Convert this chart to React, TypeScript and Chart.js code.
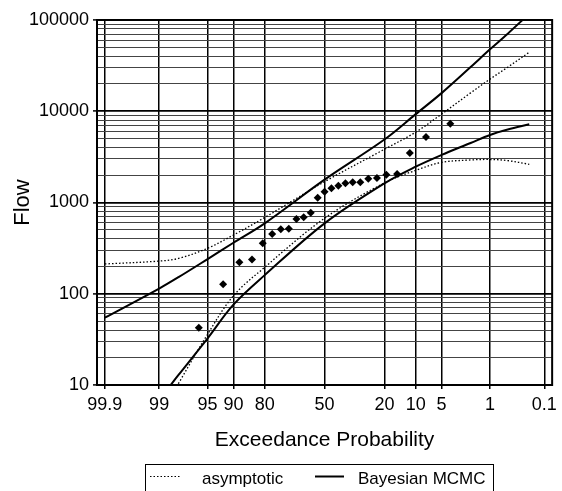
import React, { useEffect, useRef } from "react";
import { Chart, registerables } from "chart.js";

Chart.register(...registerables);

// ---- data ----
const X_TICK_PROBS = [99.9, 99, 95, 90, 80, 50, 20, 10, 5, 1, 0.1];
const X_TICK_LABELS = ["99.9", "99", "95", "90", "80", "50", "20", "10", "5", "1", "0.1"];
const Y_MIN = 10;
const Y_MAX = 100000;

// observed flows at their exceedance probabilities (%)
const OBS_PROBS = [96.15, 92.31, 88.46, 84.62, 80.77, 76.92, 73.08, 69.23, 65.38, 61.54, 57.69, 53.85, 50.0,
  46.15, 42.31, 38.46, 34.62, 30.77, 26.92, 23.08, 19.23, 15.38, 11.54, 7.69, 3.85];
const OBS_FLOWS = [42.5, 127, 221, 238, 357, 452, 510, 515, 659, 688, 773, 1129, 1313,
  1429, 1528, 1622, 1663, 1663, 1824, 1853, 2017, 2049, 3487, 5220, 7306];

// confidence bounds (exceedance probability %, flow)
const CURVE_PROBS = [99.9, 99, 98, 95, 90, 80, 50, 20, 10, 5, 2, 1, 0.5, 0.2];
const BAYES_UPPER = [54.6, 114, 152, 240, 362, 591, 1780, 4900, 9300, 15800, 30500, 47700, 70800, 117000];
const BAYES_LOWER = [1.5, 7, 12.9, 32.5, 76, 160, 591, 1622, 2470, 3320, 4490, 5500, 6300, 7190];
const ASYM_UPPER = [212, 228, 244, 315, 440, 685, 1690, 3830, 5900, 9300, 15900, 22500, 30400, 44300];
const ASYM_LOWER = [1, 4.4, 10.4, 36, 95, 195, 672, 1640, 2250, 2750, 2925, 2960, 2880, 2620];

const LEGEND_LABELS = ["asymptotic", "Bayesian MCMC"];

// inverse standard normal CDF (Acklam) used for the probability axis
function probit(p: number): number {
  const a = [-3.969683028665376e1, 2.209460984245205e2, -2.759285104469687e2, 1.38357751867269e2, -3.066479806614716e1, 2.506628277459239];
  const b = [-5.447609879822406e1, 1.615858368580409e2, -1.556989798598866e2, 6.680131188771972e1, -1.328068155288572e1];
  const c = [-7.784894002430293e-3, -3.223964580411365e-1, -2.400758277161838, -2.549732539343734, 4.374664141464968, 2.938163982698783];
  const d = [7.784695709041462e-3, 3.224671290700398e-1, 2.445134137142996, 3.754408661907416];
  const pl = 0.02425;
  if (p < pl) {
    const q = Math.sqrt(-2 * Math.log(p));
    return (((((c[0] * q + c[1]) * q + c[2]) * q + c[3]) * q + c[4]) * q + c[5]) / ((((d[0] * q + d[1]) * q + d[2]) * q + d[3]) * q + 1);
  }
  if (p > 1 - pl) {
    const q = Math.sqrt(-2 * Math.log(1 - p));
    return -(((((c[0] * q + c[1]) * q + c[2]) * q + c[3]) * q + c[4]) * q + c[5]) / ((((d[0] * q + d[1]) * q + d[2]) * q + d[3]) * q + 1);
  }
  const q = p - 0.5;
  const r = q * q;
  return (((((a[0] * r + a[1]) * r + a[2]) * r + a[3]) * r + a[4]) * r + a[5]) * q / (((((b[0] * r + b[1]) * r + b[2]) * r + b[3]) * r + b[4]) * r + 1);
}
const exToZ = (pct: number) => probit(1 - pct / 100);

const FONT = "'Liberation Sans', Arial, sans-serif";

const isDecade = (v: number) => Math.abs(Math.log10(v) - Math.round(Math.log10(v))) < 1e-9;

const frameAndLegend = {
  id: "frameAndLegend",
  afterDatasetsDraw(chart: any) {
    const { ctx, chartArea: a } = chart;
    ctx.save();
    ctx.strokeStyle = "#000";
    ctx.lineWidth = 2;
    ctx.strokeRect(a.left, a.top, a.right - a.left, a.bottom - a.top);
    ctx.restore();
  },
  afterDraw(chart: any) {
    const { ctx } = chart;
    ctx.save();
    ctx.strokeStyle = "#000";
    ctx.lineWidth = 1;
    ctx.strokeRect(145.5, 464.5, 348, 40);
    const ly = 476.5;
    ctx.setLineDash([1.5, 2]);
    ctx.lineWidth = 1.2;
    ctx.beginPath();
    ctx.moveTo(150, ly);
    ctx.lineTo(181, ly);
    ctx.stroke();
    ctx.setLineDash([]);
    ctx.lineWidth = 2;
    ctx.beginPath();
    ctx.moveTo(315, ly);
    ctx.lineTo(344, ly);
    ctx.stroke();
    ctx.fillStyle = "#000";
    ctx.font = `17px ${FONT}`;
    ctx.textBaseline = "alphabetic";
    ctx.textAlign = "left";
    ctx.fillText(LEGEND_LABELS[0], 202, 484);
    ctx.fillText(LEGEND_LABELS[1], 358, 484);
    ctx.restore();
  },
};

export default function App() {
  const ref = useRef<HTMLCanvasElement | null>(null);
  useEffect(() => {
    if (!ref.current) return;
    const pts = (probs: number[], vals: number[]) => probs.map((p, i) => ({ x: exToZ(p), y: vals[i] }));
    const solid = { showLine: true, borderColor: "#000", borderWidth: 2, pointRadius: 0, fill: false, tension: 0.35 };
    const dotted = { showLine: true, borderColor: "#000", borderWidth: 1.3, borderDash: [1.5, 2], pointRadius: 0, fill: false, tension: 0.35 };
    const chart = new Chart(ref.current, {
      type: "scatter",
      data: {
        datasets: [
          { label: "observed", data: pts(OBS_PROBS, OBS_FLOWS), pointStyle: "rectRot", pointRadius: 4, backgroundColor: "#000", borderColor: "#000", borderWidth: 0, showLine: false },
          { label: "asymptotic upper", data: pts(CURVE_PROBS, ASYM_UPPER), ...dotted },
          { label: "asymptotic lower", data: pts(CURVE_PROBS, ASYM_LOWER), ...dotted },
          { label: "Bayesian upper", data: pts(CURVE_PROBS, BAYES_UPPER), ...solid },
          { label: "Bayesian lower", data: pts(CURVE_PROBS, BAYES_LOWER), ...solid },
        ] as any,
      },
      options: {
        animation: false,
        responsive: false,
        events: [],
        layout: { padding: { top: 20, right: 9, left: 0, bottom: 0 } },
        plugins: { legend: { display: false }, tooltip: { enabled: false }, title: { display: false } },
        scales: {
          x: {
            type: "linear",
            min: -3.2,
            max: 3.2,
            afterBuildTicks: (s: any) => {
              s.ticks = X_TICK_PROBS.map((p) => ({ value: exToZ(p) }));
            },
            afterFit: (s: any) => {
              s.height = 106;
            },
            ticks: {
              autoSkip: false,
              maxRotation: 0,
              padding: 5,
              color: "#000",
              font: { family: FONT, size: 18 },
              callback: (_v: any, i: number) => X_TICK_LABELS[i],
            },
            grid: { color: "#000", lineWidth: 1.5, tickLength: 4, tickColor: "#000" },
            border: { display: false },
            title: {
              display: true,
              text: "Exceedance Probability",
              color: "#000",
              font: { family: FONT, size: 21 },
              padding: { top: 0, bottom: 38 },
            },
          },
          y: {
            type: "logarithmic",
            min: Y_MIN,
            max: Y_MAX,
            afterBuildTicks: (s: any) => {
              const t: any[] = [];
              for (let e = Math.log10(Y_MIN); e < Math.log10(Y_MAX); e++) {
                for (let k = 1; k <= 9; k++) t.push({ value: k * Math.pow(10, e) });
              }
              t.push({ value: Y_MAX });
              s.ticks = t;
            },
            afterFit: (s: any) => {
              s.width = 97;
            },
            ticks: {
              autoSkip: false,
              padding: 4,
              color: "#000",
              font: { family: FONT, size: 18 },
              callback: (v: any) => (isDecade(Number(v)) ? String(Math.round(Number(v))) : ""),
            },
            grid: {
              color: (c: any) => (c.tick && isDecade(c.tick.value) ? "#000" : "#444"),
              lineWidth: (c: any) => (c.tick && isDecade(c.tick.value) ? 1.8 : 1),
              tickLength: 4,
              tickColor: (c: any) => (c.tick && isDecade(c.tick.value) ? "#000" : "rgba(0,0,0,0)"),
              tickWidth: 1.5,
            },
            border: { display: false },
            title: {
              display: true,
              text: "Flow",
              color: "#000",
              font: { family: FONT, size: 22 },
              padding: { top: 10, bottom: 0 },
            },
          },
        },
      },
      plugins: [frameAndLegend],
    });
    return () => chart.destroy();
  }, []);
  return (
    <div style={{ position: "fixed", left: 0, top: 0, width: 562, height: 491, background: "#fff" }}>
      <canvas ref={ref} width={562} height={491} style={{ display: "block" }} />
    </div>
  );
}
